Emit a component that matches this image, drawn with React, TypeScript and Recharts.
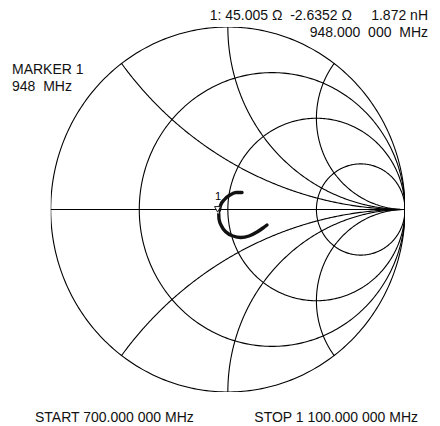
import React from "react";
import { ComposedChart, Line, Scatter, XAxis, YAxis } from "recharts";

// Smith chart grid values
const resistanceCircles = [0, 1 / 3, 1, 3];
const reactanceArcs = [0.5, 1, 2, -0.5, -1, -2];

const traceRe = [0.0799, 0.046, 0.0121, -0.0189, -0.0415, -0.0517, -0.05, -0.0358, -0.0104, 0.0291, 0.0742, 0.1194, 0.1646, 0.1984, 0.221];
const traceIm = [0.0932, 0.0932, 0.0795, 0.0548, 0.0219, -0.0137, -0.0521, -0.0904, -0.1233, -0.1452, -0.1534, -0.1452, -0.1233, -0.1014, -0.0849];

// Marker 1 @ 948 MHz
const markerRe = [-0.058];
const markerIm = [-0.014];

const markerLines = ["MARKER 1", "948  MHz"];
const readoutImpedance = "1: 45.005 Ω  -2.6352 Ω";
const readoutInductance = "1.872 nH";
const readoutFreq = "948.000  000  MHz";
const startLabel = "START 700.000 000 MHz";
const stopLabel = "STOP 1 100.000 000 MHz";

type P = { x: number; y: number };

function rCircle(r: number): P[] {
  const c = r / (1 + r);
  const rho = 1 / (1 + r);
  const pts: P[] = [];
  for (let i = 0; i <= 360; i++) {
    const t = (i * Math.PI) / 180;
    pts.push({ x: c + rho * Math.cos(t), y: rho * Math.sin(t) });
  }
  return pts;
}

function xArc(x: number): P[] {
  const pts: P[] = [];
  const n = 240;
  for (let i = 0; i < n; i++) {
    const r = Math.tan((i / n) * (Math.PI / 2));
    const den = (r + 1) * (r + 1) + x * x;
    pts.push({ x: (r * r - 1 + x * x) / den, y: (2 * x) / den });
  }
  pts.push({ x: 1, y: 0 });
  return pts;
}

const realAxis: P[] = [
  { x: -1, y: 0 },
  { x: 1, y: 0 },
];

const trace: P[] = traceRe.map((re, i) => ({ x: re, y: traceIm[i] }));
const marker: P[] = markerRe.map((re, i) => ({ x: re, y: markerIm[i] }));

const MarkerShape = (props: any) => {
  const { cx, cy } = props;
  if (cx == null || cy == null) return <g />;
  return (
    <g>
      <polygon
        points={`${cx - 3},${cy - 5.5} ${cx + 3},${cy - 5.5} ${cx},${cy}`}
        fill="#fff"
        stroke="#222"
        strokeWidth={1}
      />
      <text x={cx + 0.5} y={cy - 12.5} textAnchor="middle" fontSize={11} fontFamily="Liberation Sans, Arial, sans-serif" fill="#000" stroke="none">
        1
      </text>
    </g>
  );
};

const textStyle: React.CSSProperties = {
  position: "absolute",
  fontFamily: "'Liberation Sans', Arial, sans-serif",
  fontSize: 14,
  lineHeight: "14px",
  color: "#111",
  whiteSpace: "pre",
};

export default function App() {
  return (
    <div style={{ position: "relative", width: 432, height: 418 }}>
      <ComposedChart
        width={432}
        height={418}
        margin={{ top: 19, right: 35, bottom: 34, left: 42.7 }}
      >
        <XAxis type="number" dataKey="x" domain={[-1, 1]} hide allowDataOverflow height={0} />
        <YAxis type="number" dataKey="y" domain={[-1, 1]} hide allowDataOverflow width={0} />
        {resistanceCircles.map((r) => (
          <Line
            key={`r${r}`}
            data={rCircle(r)}
            dataKey="y"
            type="linear"
            stroke="#000"
            strokeWidth={1.1}
            dot={false}
            activeDot={false}
            isAnimationActive={false}
          />
        ))}
        {reactanceArcs.map((x) => (
          <Line
            key={`x${x}`}
            data={xArc(x)}
            dataKey="y"
            type="linear"
            stroke="#000"
            strokeWidth={1.1}
            dot={false}
            activeDot={false}
            isAnimationActive={false}
          />
        ))}
        <Line
          data={realAxis}
          dataKey="y"
          type="linear"
          stroke="#000"
          strokeWidth={1.1}
          dot={false}
          activeDot={false}
          isAnimationActive={false}
        />
        <Line
          data={trace}
          dataKey="y"
          type="monotone"
          stroke="#111"
          strokeWidth={3.4}
          strokeLinecap="round"
          dot={false}
          activeDot={false}
          isAnimationActive={false}
        />
        <Scatter data={marker} dataKey="y" shape={MarkerShape} isAnimationActive={false} />
      </ComposedChart>
      <div style={{ ...textStyle, right: 88, top: 0, textAlign: "right" }}>{readoutImpedance}</div>
      <div style={{ ...textStyle, right: 12, top: 0, textAlign: "right" }}>{readoutInductance}</div>
      <div style={{ ...textStyle, right: 12, top: 17, textAlign: "right" }}>{readoutFreq}</div>
      <div style={{ ...textStyle, left: 4, top: 54 }}>{markerLines[0]}</div>
      <div style={{ ...textStyle, left: 4, top: 71 }}>{markerLines[1]}</div>
      <div style={{ ...textStyle, left: 27, top: 402 }}>{startLabel}</div>
      <div style={{ ...textStyle, right: 22, top: 402, textAlign: "right" }}>{stopLabel}</div>
    </div>
  );
}
